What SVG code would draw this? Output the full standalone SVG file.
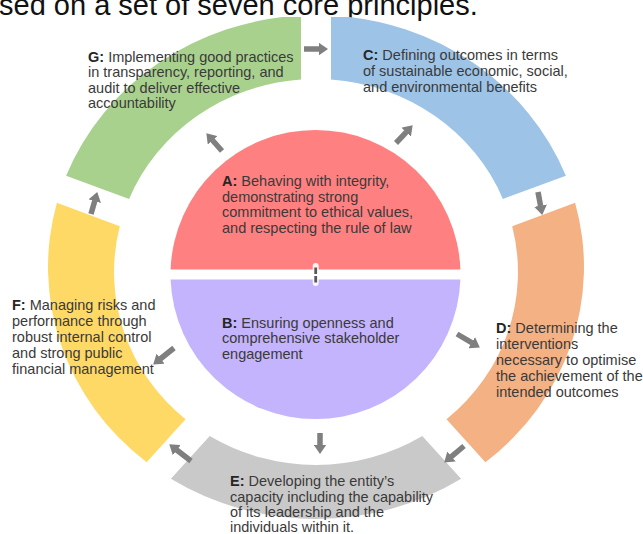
<svg xmlns="http://www.w3.org/2000/svg" width="643" height="534" viewBox="0 0 643 534">
<defs>
<style>
.t{font-family:"Liberation Sans",Arial,Helvetica,sans-serif;font-size:14.5px;fill:#3a3a3a}
.t .k{font-weight:bold;fill:#262626}
.title{font-family:"Liberation Sans",Arial,Helvetica,sans-serif;font-size:29px;fill:#111111}
.arr{stroke:#7f7f7f;stroke-width:5.5;fill:none;marker-end:url(#ah)}
</style>
<marker id="ah" markerUnits="userSpaceOnUse" viewBox="0 0 10 13" markerWidth="10" markerHeight="13" refX="0.5" refY="6.5" orient="auto">
<path d="M0,0 L9.5,6.5 L0,13 Z" fill="#7f7f7f"/>
</marker>
<clipPath id="topclip"><rect x="0" y="17" width="643" height="517"/></clipPath>
</defs>
<rect x="0" y="0" width="643" height="534" fill="#ffffff"/>
<text class="title" x="-1" y="15">sed on a set of seven core principles.</text>

<g clip-path="url(#topclip)">
<g id="node-C">
<path d="M331.0,15.4 A268,252 0 0 1 565.9,175.8 L502.9,198.9 A202,193 0 0 0 331.0,79.5 Z" fill="#9DC3E6"/>
<text class="t"><tspan x="363" y="59.5"><tspan class="k">C:</tspan> Defining outcomes in terms</tspan><tspan x="363" y="75.5">of sustainable economic, social,</tspan><tspan x="363" y="91.5">and environmental benefits</tspan></text>
</g>
<g id="node-G">
<path d="M66.1,175.8 A268,252 0 0 1 301.0,15.4 L301.0,79.5 A202,193 0 0 0 129.1,198.9 Z" fill="#A9D18E"/>
<text class="t"><tspan x="88" y="61.5"><tspan class="k">G:</tspan> Implementing good practices</tspan><tspan x="88" y="77">in transparency, reporting, and</tspan><tspan x="88" y="92.5">audit to deliver effective</tspan><tspan x="88" y="108">accountability</tspan></text>
</g>
</g>

<g id="node-D">
<path d="M575.1,202.7 A268,252 0 0 1 485.4,462.3 L446.5,419.3 A202,193 0 0 0 512.2,226.2 Z" fill="#F4B183"/>
<text class="t"><tspan x="496" y="332.5"><tspan class="k">D:</tspan> Determining the</tspan><tspan x="496" y="348.5">interventions</tspan><tspan x="496" y="364.5">necessary to optimise</tspan><tspan x="496" y="380.5">the achievement of the</tspan><tspan x="496" y="396.5">intended outcomes</tspan></text>
</g>

<g id="node-E">
<path d="M461.1,478.8 A268,252 0 0 1 170.9,478.8 L209.7,436.1 A202,193 0 0 0 422.3,436.1 Z" fill="#C9C9C9"/>
<text class="t"><tspan x="230" y="486"><tspan class="k">E:</tspan> Developing the entity’s</tspan><tspan x="230" y="502">capacity including the capability</tspan><tspan x="230" y="517">of its leadership and the</tspan><tspan x="230" y="532">individuals within it.</tspan></text>
</g>

<g id="node-F">
<path d="M146.6,462.3 A268,252 0 0 1 56.9,202.7 L119.8,226.2 A202,193 0 0 0 185.5,419.3 Z" fill="#FFD966"/>
<text class="t"><tspan x="12" y="309.5"><tspan class="k">F:</tspan> Managing risks and</tspan><tspan x="12" y="325.5">performance through</tspan><tspan x="12" y="341.5">robust internal control</tspan><tspan x="12" y="357.5">and strong public</tspan><tspan x="12" y="373.5">financial management</tspan></text>
</g>

<g id="node-A">
<path d="M170.6,269.5 A145,145 0 0 1 460.4,269.5 Z" fill="#FF8080"/>
<text class="t"><tspan x="222" y="186"><tspan class="k">A:</tspan> Behaving with integrity,</tspan><tspan x="222" y="201.5">demonstrating strong</tspan><tspan x="222" y="217">commitment to ethical values,</tspan><tspan x="222" y="232.5">and respecting the rule of law</tspan></text>
</g>

<g id="node-B">
<path d="M170.6,279.5 A145,145 0 0 0 460.4,279.5 Z" fill="#C4B3FD"/>
<text class="t"><tspan x="222" y="327.5"><tspan class="k">B:</tspan> Ensuring openness and</tspan><tspan x="222" y="343">comprehensive stakeholder</tspan><tspan x="222" y="358.5">engagement</tspan></text>
</g>

<g id="connectors">
<line class="arr" x1="304" y1="49" x2="319" y2="49"/>
<line class="arr" x1="222" y1="151" x2="212.3" y2="140"/>
<line class="arr" x1="396" y1="143" x2="406.5" y2="131.8"/>
<line class="arr" x1="538" y1="192" x2="540.6" y2="206.1"/>
<line class="arr" x1="91" y1="214" x2="94.8" y2="200.7"/>
<line class="arr" x1="174" y1="348" x2="160.2" y2="359"/>
<line class="arr" x1="457" y1="334" x2="472.1" y2="342.9"/>
<line class="arr" x1="320" y1="433" x2="320" y2="445"/>
<line class="arr" x1="464" y1="446" x2="451.1" y2="456.8"/>
<line class="arr" x1="191" y1="461" x2="176.4" y2="449.8"/>
<line x1="315.7" y1="266" x2="315.7" y2="283" stroke="#ffffff" stroke-width="6" stroke-linecap="round" opacity="0.9"/>
<line x1="315.7" y1="267.5" x2="315.7" y2="282.5" stroke="#595959" stroke-width="2.8" stroke-dasharray="6.5 2"/>
</g>
</svg>
